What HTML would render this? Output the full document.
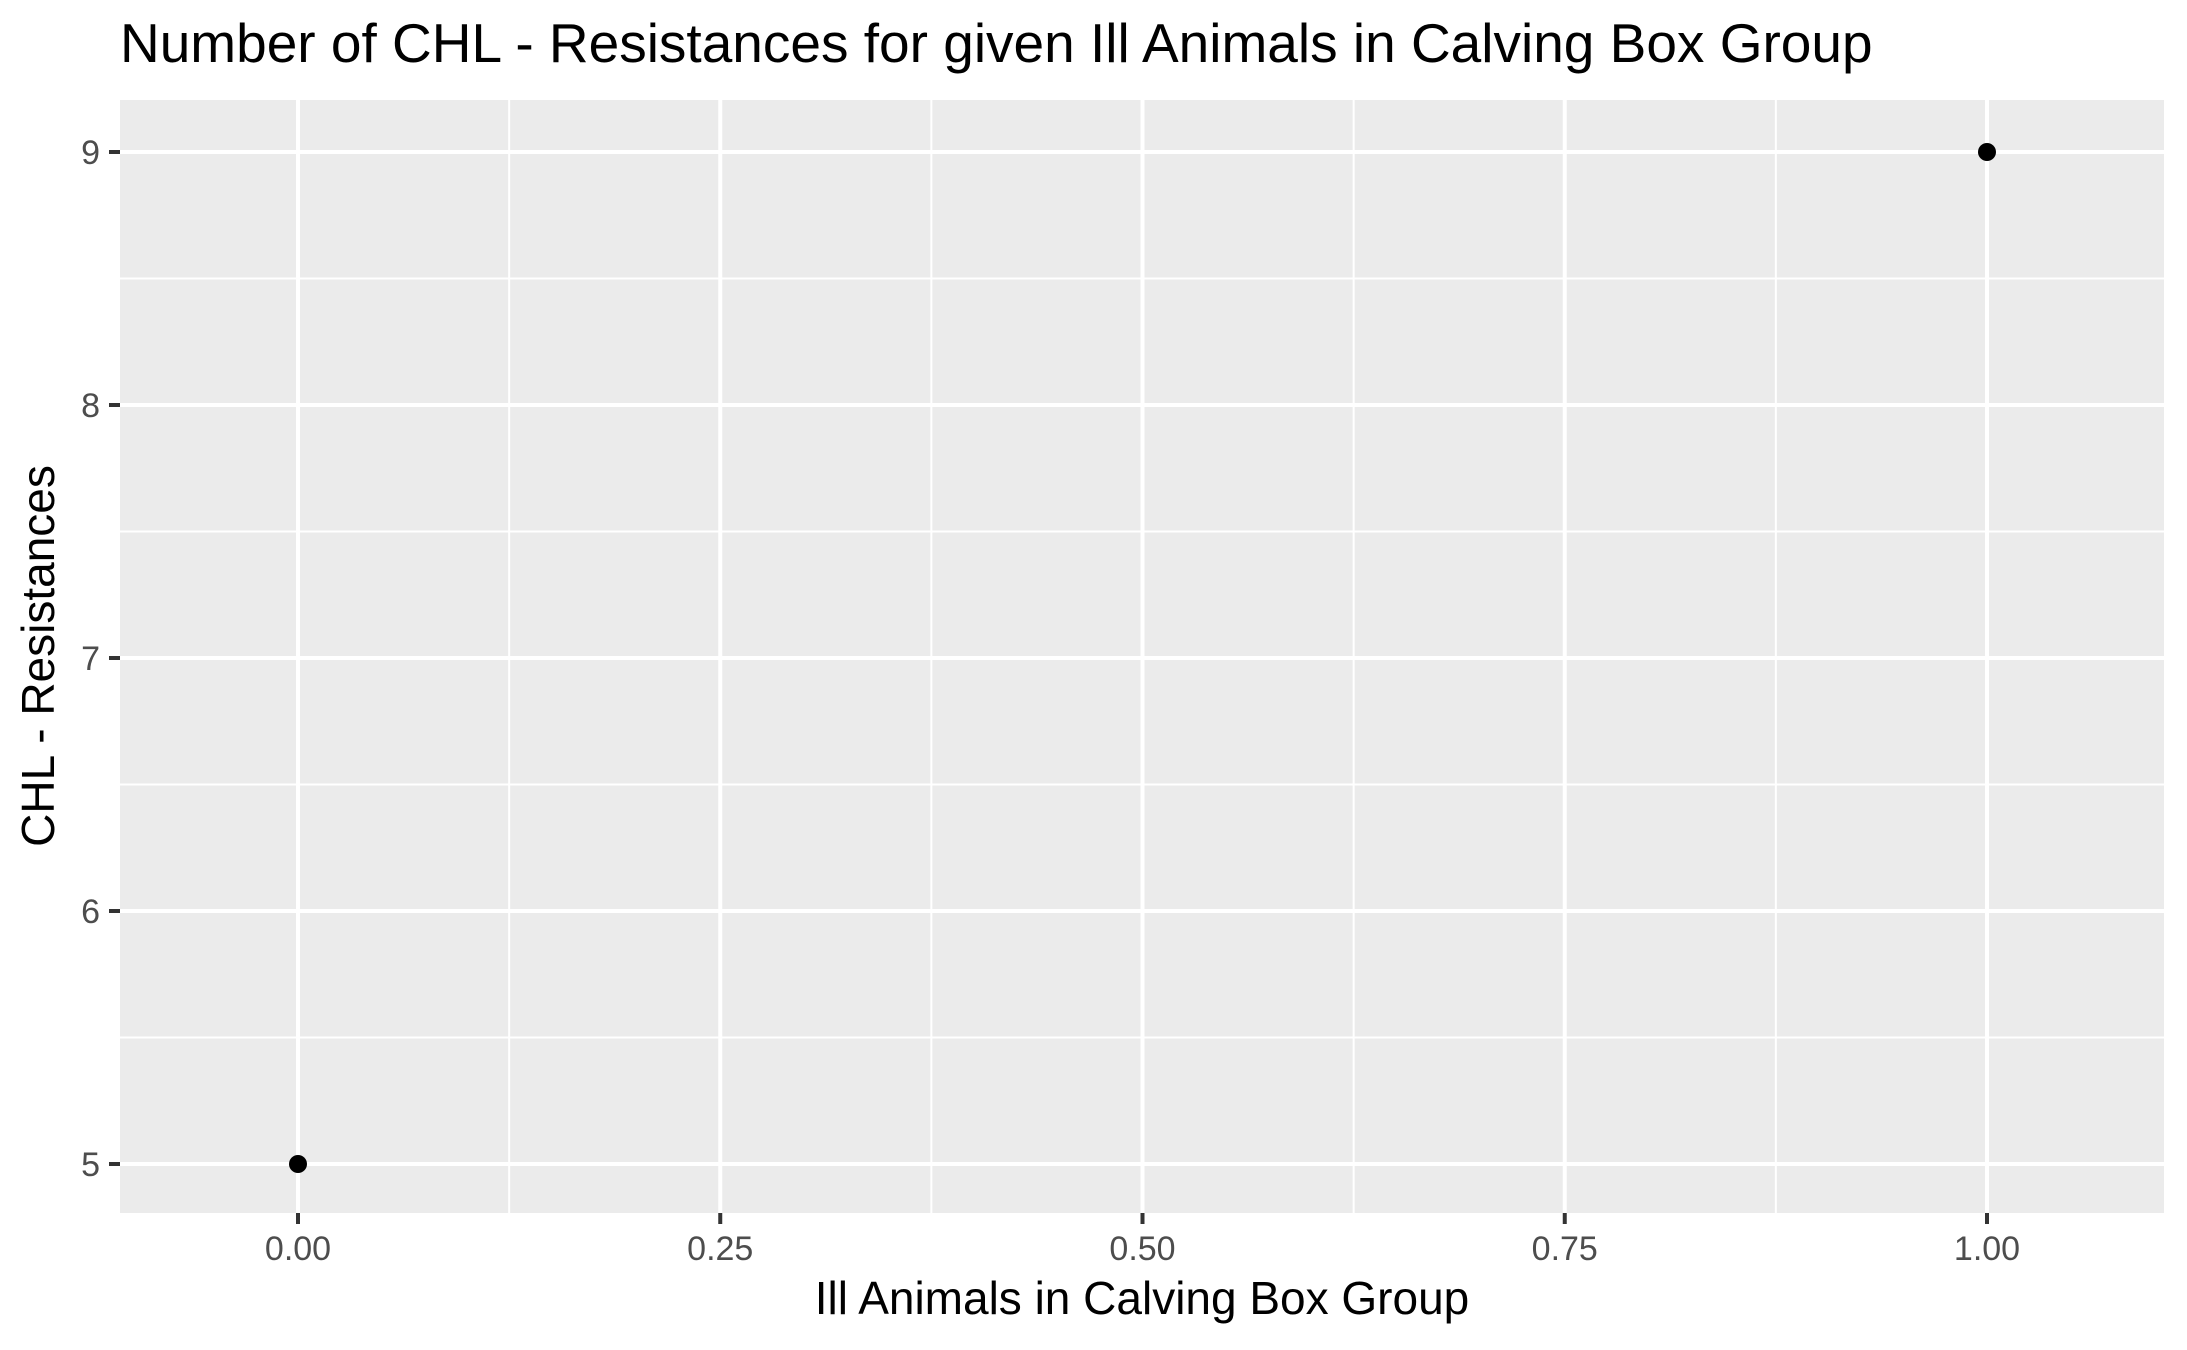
<!DOCTYPE html>
<html><head><meta charset="utf-8"><style>
html,body{margin:0;padding:0;background:#fff;}
svg{display:block;font-family:"Liberation Sans",Arial,sans-serif;}
</style></head><body>
<svg id="chart" width="2187" height="1350" viewBox="0 0 2187 1350">
<rect width="2187" height="1350" fill="#fff"/>
<text x="120" y="62" font-size="55" fill="#000">Number of CHL - Resistances for given Ill Animals in Calving Box Group</text>
<rect x="120" y="100" width="2044" height="1113" fill="#ebebeb"/>
<g id="grid"></g><g id="axes"></g><g id="points"></g>
<text x="1142" y="1314" font-size="46" text-anchor="middle" fill="#000">Ill Animals in Calving Box Group</text>
<text transform="translate(54,656) rotate(-90)" font-size="46" text-anchor="middle" fill="#000">CHL - Resistances</text>
</svg>
<script>
const xValues = [0, 1];
const yValues = [5, 9];
const xTicks = [0, 0.25, 0.5, 0.75, 1];
const xTickLabels = ["0.00", "0.25", "0.50", "0.75", "1.00"];
const yTicks = [5, 6, 7, 8, 9];
const yTickLabels = ["5", "6", "7", "8", "9"];

const ns = "http://www.w3.org/2000/svg";
const X = v => 298 + (v - 0) * (1987 - 298);
const Y = v => 1164 - (v - 5) * (1164 - 152) / 4;
const L = 120, R = 2164, T = 100, B = 1213;
function mk(tag, attrs, parent) {
  const e = document.createElementNS(ns, tag);
  for (const k in attrs) e.setAttribute(k, attrs[k]);
  parent.appendChild(e); return e;
}
const grid = document.getElementById('grid'), axes = document.getElementById('axes'), pts = document.getElementById('points');
for (let i = 0; i < xTicks.length - 1; i++) {
  const m = (xTicks[i] + xTicks[i+1]) / 2;
  const g = mk('line', {x1: X(m), x2: X(m), y1: T, y2: B, stroke: '#fff', 'stroke-width': 2}, grid);
  
  
}
for (let i = 0; i < yTicks.length - 1; i++) {
  const m = (yTicks[i] + yTicks[i+1]) / 2;
  const g = mk('line', {x1: L, x2: R, y1: Y(m), y2: Y(m), stroke: '#fff', 'stroke-width': 2}, grid);
  
  
}
xTicks.forEach((t, i) => {
  const g = mk('line', {x1: X(t), x2: X(t), y1: T, y2: B, stroke: '#fff', 'stroke-width': 4}, grid);
  
  
  const tk = mk('line', {x1: X(t), x2: X(t), y1: B, y2: B + 11, stroke: '#333', 'stroke-width': 4}, axes);
  
  
  const tx = mk('text', {x: X(t), y: 1260, 'font-size': 34, 'text-anchor': 'middle', fill: '#4d4d4d'}, axes);
  tx.textContent = xTickLabels[i];
  
  
});
yTicks.forEach((t, i) => {
  const g = mk('line', {x1: L, x2: R, y1: Y(t), y2: Y(t), stroke: '#fff', 'stroke-width': 4}, grid);
  
  
  const tk = mk('line', {x1: L - 11, x2: L, y1: Y(t), y2: Y(t), stroke: '#333', 'stroke-width': 4}, axes);
  
  
  const tx = mk('text', {x: 100, y: Y(t) + 12, 'font-size': 34, 'text-anchor': 'end', fill: '#4d4d4d'}, axes);
  tx.textContent = yTickLabels[i];
  
  
});
xValues.forEach((x, i) => {
  const c = mk('circle', {cx: X(x), cy: Y(yValues[i]), r: 9, fill: '#000'}, pts);
  
  
});
</script>
</body></html>
